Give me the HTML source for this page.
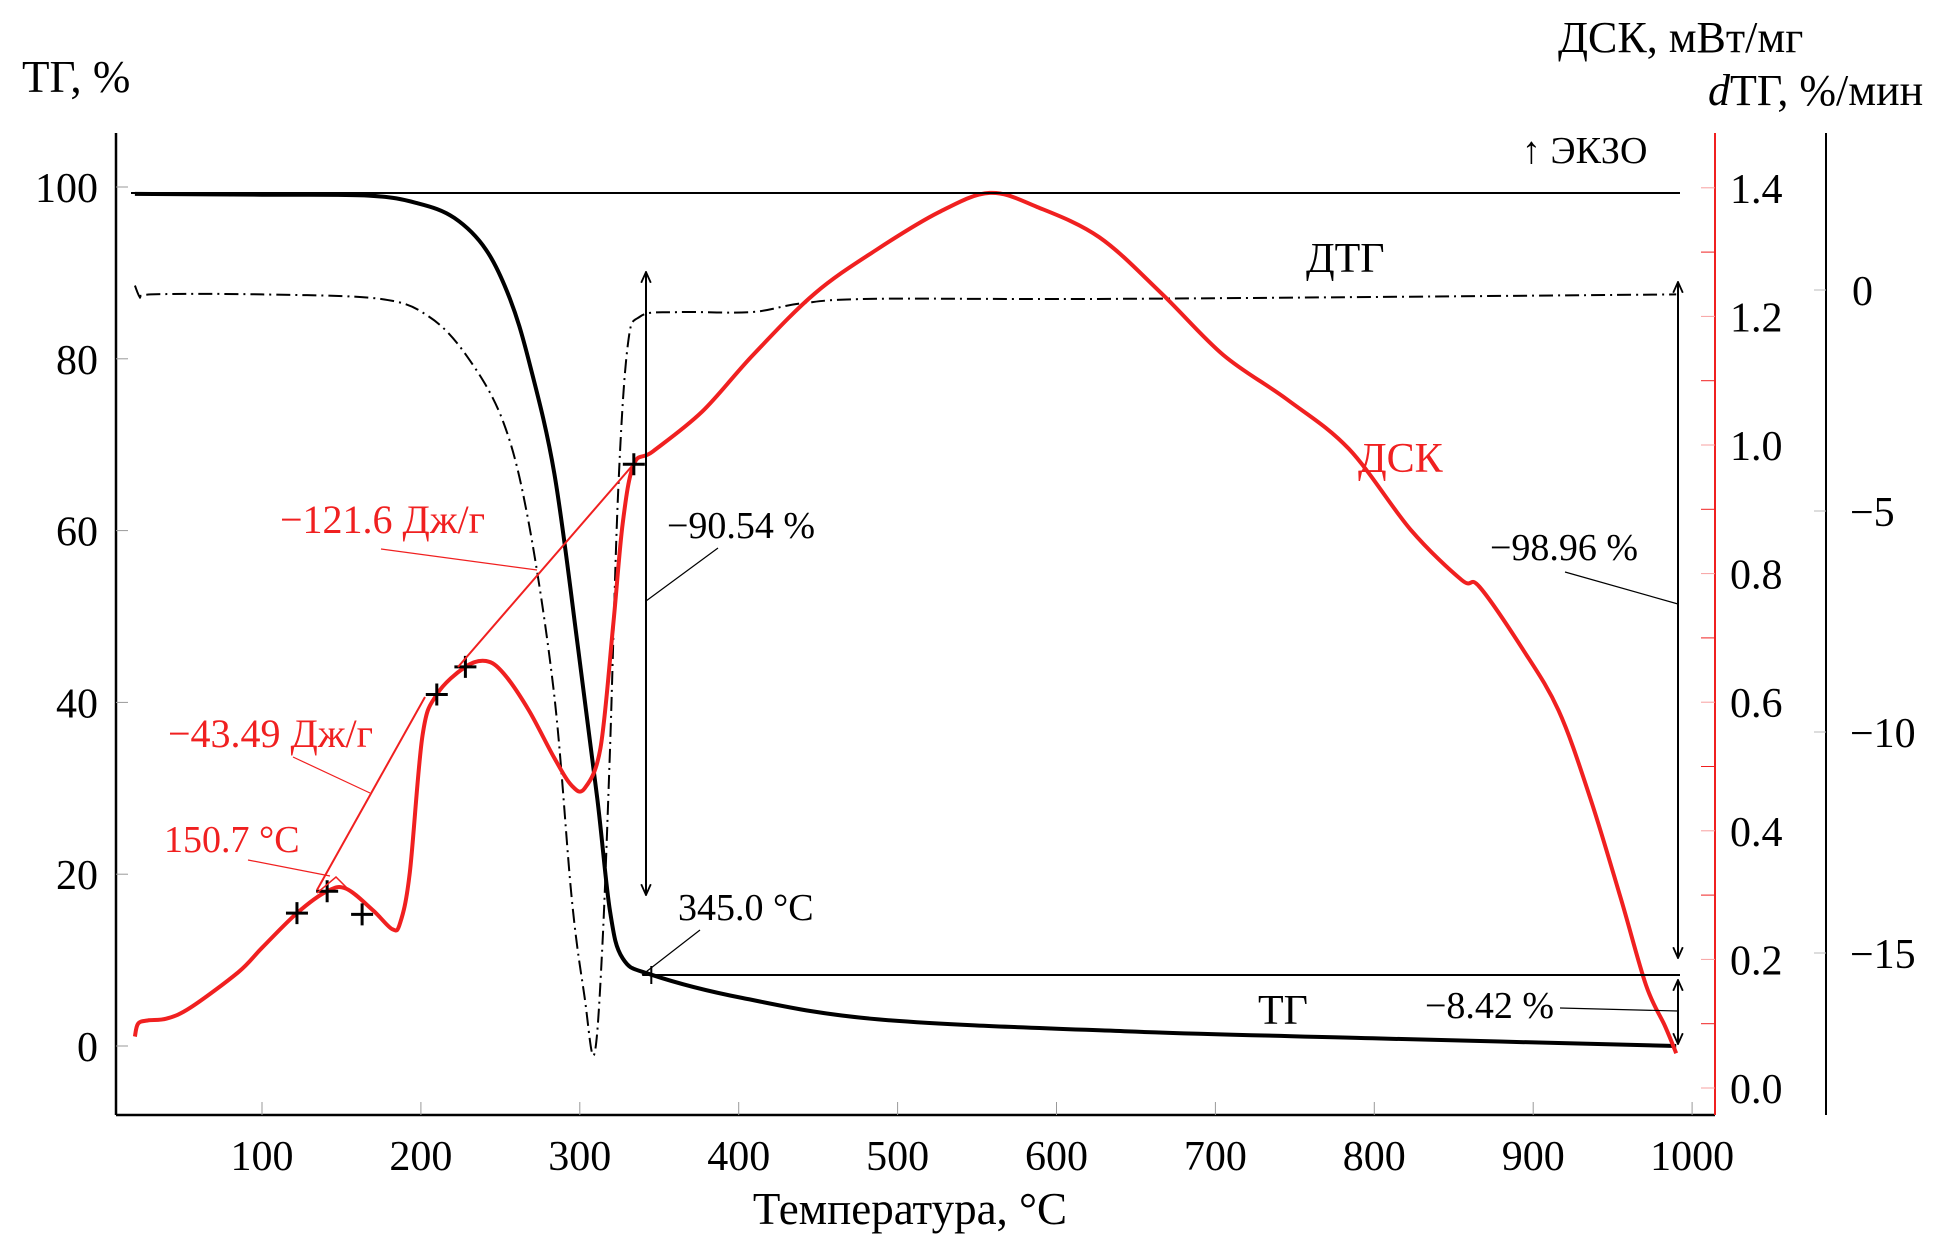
<!DOCTYPE html>
<html><head><meta charset="utf-8"><style>
html,body{margin:0;padding:0;background:#fff}
svg{display:block;font-family:"Liberation Serif",serif}
</style></head><body>
<svg id="chart" width="1955" height="1251" viewBox="0 0 1955 1251" xmlns="http://www.w3.org/2000/svg">
<defs>
<marker id="ah" viewBox="0 0 10 10" refX="9" refY="5" markerWidth="12" markerHeight="12" orient="auto-start-reverse" markerUnits="userSpaceOnUse"><path d="M0,1 L9,5 L0,9" fill="none" stroke="#000" stroke-width="1.5"/></marker>
</defs>
<g id="axes"></g>
<g id="marks"></g>
<g id="annot">
  <text x="22" y="92" font-size="45">ТГ, %</text>
  <text x="1558" y="52" font-size="44">ДСК, мВт/мг</text>
  <text x="1708" y="105" font-size="44"><tspan font-style="italic">d</tspan>ТГ, %/мин</text>
  <text x="910" y="1224" font-size="45" text-anchor="middle">Температура, °C</text>
  <text x="1522" y="163" font-size="38">↑ ЭКЗО</text>
  <text x="1306" y="272" font-size="42">ДТГ</text>
  <text x="1358" y="472" font-size="42" fill="#f02020">ДСК</text>
  <text x="1258" y="1024" font-size="42">ТГ</text>
  <line x1="131" y1="193" x2="1680" y2="193" stroke="#000" stroke-width="2"/>
  <line x1="644" y1="975" x2="1680" y2="975" stroke="#000" stroke-width="2"/>
  <line x1="646" y1="272" x2="646" y2="895" stroke="#000" stroke-width="2" marker-start="url(#ah)" marker-end="url(#ah)"/>
  <line x1="1678" y1="282" x2="1678" y2="958" stroke="#000" stroke-width="2" marker-start="url(#ah)" marker-end="url(#ah)"/>
  <line x1="1678" y1="980" x2="1678" y2="1044" stroke="#000" stroke-width="2" marker-start="url(#ah)" marker-end="url(#ah)"/>
  <text x="667" y="538" font-size="38">−90.54 %</text>
  <line x1="718" y1="548" x2="646" y2="601" stroke="#000" stroke-width="1.2"/>
  <text x="1490" y="560" font-size="38">−98.96 %</text>
  <line x1="1565" y1="572" x2="1678" y2="604" stroke="#000" stroke-width="1.2"/>
  <text x="1425" y="1018" font-size="38">−8.42 %</text>
  <line x1="1560" y1="1008" x2="1678" y2="1011" stroke="#000" stroke-width="1.2"/>
  <text x="678" y="920" font-size="38">345.0 °C</text>
  <line x1="700" y1="930" x2="642" y2="975" stroke="#000" stroke-width="1.2"/>
  <text x="280" y="533" font-size="40" fill="#f02020">−121.6 Дж/г</text>
  <line x1="381" y1="549" x2="537" y2="570" stroke="#f02020" stroke-width="1.2"/>
  <text x="168" y="747" font-size="40" fill="#f02020">−43.49 Дж/г</text>
  <line x1="293" y1="757" x2="370" y2="793" stroke="#f02020" stroke-width="1.2"/>
  <text x="164" y="852" font-size="38" fill="#f02020">150.7 °C</text>
  <line x1="248" y1="860" x2="330" y2="876" stroke="#f02020" stroke-width="1.2"/>
  <line x1="317" y1="890" x2="425" y2="697" stroke="#f02020" stroke-width="2"/>
  <line x1="458" y1="667" x2="632" y2="466" stroke="#f02020" stroke-width="2"/>
  <polyline points="317,893 336,877 352,893" fill="none" stroke="#f02020" stroke-width="1.5"/>
</g>
</svg>
<script>
// ---- data ----
const xTicks=[100,200,300,400,500,600,700,800,900,1000];
const tgTicks=[0,20,40,60,80,100];
const dscTicks=[0.0,0.2,0.4,0.6,0.8,1.0,1.2,1.4];
const dtgTicks=[0,-5,-10,-15];
const tgT=[20,100,167,198,221,241,256,268,284,299,311,319,327,345,402,488,645,799,990];
const tgV=[99.2,99.1,99.0,98.1,96.4,92.7,87,79.7,66.6,46.2,28.8,15.7,10.2,8.3,5.6,3.1,1.7,0.9,0.0];
const dtgT=[20,24,30,100,174,205,229,252,268,284,295,303,309,314,319,324,330,338,362,408,440,487,643,990];
const dtgV=[0.1,-0.2,-0.1,-0.1,-0.2,-0.6,-1.5,-3.0,-5.3,-9.2,-13.8,-16.0,-17.3,-15,-10.4,-4.7,-1.3,-0.6,-0.5,-0.5,-0.3,-0.2,-0.2,-0.1];
const dscT=[20,22,28,40,55,85,100,122,141,153,170,182,187,193,201,210,228,241,252,268,284,295,303,313,321,327,334,346,377,409,448,487,526,558,588,627,666,705,745,784,823,855,866,893,916,936,955,971,983,990];
const dscV=[0.08,0.1,0.105,0.108,0.125,0.18,0.218,0.272,0.306,0.31,0.276,0.247,0.257,0.335,0.548,0.612,0.655,0.664,0.645,0.587,0.513,0.47,0.466,0.529,0.72,0.878,0.97,0.99,1.052,1.14,1.236,1.304,1.362,1.392,1.37,1.323,1.236,1.14,1.071,0.994,0.868,0.79,0.78,0.684,0.587,0.45,0.296,0.16,0.096,0.054];
const crossT=[122,141,163,210,228,334];
const crossV=[0.272,0.306,0.27,0.612,0.655,0.97];
// ---- scales ----
const X=t=>262+(t-100)*1.589;
const YTG=v=>1046-v*8.59;
const YDSC=v=>1088-v*643;
const YDTG=v=>290-v*44.2;
const NS="http://www.w3.org/2000/svg";
function mk(tag,attrs,parent,text){const e=document.createElementNS(NS,tag);for(const k in attrs)e.setAttribute(k,attrs[k]);if(text!==undefined)e.textContent=text;parent.appendChild(e);return e;}
const axes=document.getElementById('axes'),marks=document.getElementById('marks');
let a=mk('line',{x1:116,y1:133,x2:116,y2:1115,stroke:'#000','stroke-width':2.5},axes);


a=mk('line',{x1:116,y1:1115,x2:1715,y2:1115,stroke:'#000','stroke-width':2.5},axes);


a=mk('line',{x1:1715,y1:133,x2:1715,y2:1115,stroke:'#f02020','stroke-width':2},axes);


a=mk('line',{x1:1826,y1:133,x2:1826,y2:1115,stroke:'#000','stroke-width':2},axes);


xTicks.forEach(t=>{mk('line',{x1:X(t),y1:1115,x2:X(t),y2:1102,stroke:'#999','stroke-width':1},axes);
 const e=mk('text',{x:X(t),y:1170,'font-size':42,'text-anchor':'middle'},axes,String(t));
 
 });
tgTicks.forEach(v=>{mk('line',{x1:116,y1:YTG(v),x2:128,y2:YTG(v),stroke:'#999','stroke-width':1},axes);
 const e=mk('text',{x:98,y:YTG(v)+15,'font-size':42,'text-anchor':'end'},axes,String(v));
 
 });
dscTicks.forEach(v=>{mk('line',{x1:1701,y1:YDSC(v),x2:1715,y2:YDSC(v),stroke:'#f7a0a0','stroke-width':1},axes);
 const e=mk('text',{x:1730,y:YDSC(v)+15,'font-size':42},axes,v.toFixed(1));
 
 });
for(let v=0.1;v<1.4;v+=0.2){mk('line',{x1:1701,y1:YDSC(v),x2:1715,y2:YDSC(v),stroke:'#f02020','stroke-width':1},axes);}
dtgTicks.forEach(v=>{mk('line',{x1:1814,y1:YDTG(v),x2:1826,y2:YDTG(v),stroke:'#bbb','stroke-width':1},axes);
 const e=mk('text',{x:v===0?1852:1850,y:YDTG(v)+15,'font-size':42},axes,v===0?'0':'−'+Math.abs(v));
 
 });
// smooth Catmull-Rom path
function path(T,V,Y){
 const P=T.map((t,i)=>[X(t),Y(V[i])]);
 let d='M'+P[0][0].toFixed(1)+','+P[0][1].toFixed(1);
 for(let i=0;i<P.length-1;i++){
  const p0=P[i-1]||P[i],p1=P[i],p2=P[i+1],p3=P[i+2]||P[i+1];
  const c1=[p1[0]+(p2[0]-p0[0])/6,p1[1]+(p2[1]-p0[1])/6];
  const c2=[p2[0]-(p3[0]-p1[0])/6,p2[1]-(p3[1]-p1[1])/6];
  d+=` C${c1[0].toFixed(1)},${c1[1].toFixed(1)} ${c2[0].toFixed(1)},${c2[1].toFixed(1)} ${p2[0].toFixed(1)},${p2[1].toFixed(1)}`;
 }
 return d;}
let p=mk('path',{d:path(dtgT,dtgV,YDTG),fill:'none',stroke:'#000','stroke-width':2,'stroke-dasharray':'14,5,2,5'},marks);


p=mk('path',{d:path(tgT,tgV,YTG),fill:'none',stroke:'#000','stroke-width':4,'stroke-linejoin':'round'},marks);


p=mk('path',{d:path(dscT,dscV,YDSC),fill:'none',stroke:'#f02020','stroke-width':4,'stroke-linejoin':'round'},marks);


crossT.forEach((t,i)=>{const x=X(t),y=YDSC(crossV[i]);
 const g=mk('path',{d:`M${x-11},${y}H${x+11}M${x},${y-11}V${y+11}`,stroke:'#000','stroke-width':3},marks);
 
 });
const c=mk('path',{d:`M${X(345)-9},975H${X(345)+9}M${X(345)},966V984`,stroke:'#000','stroke-width':2},marks);


</script>
</body></html>
